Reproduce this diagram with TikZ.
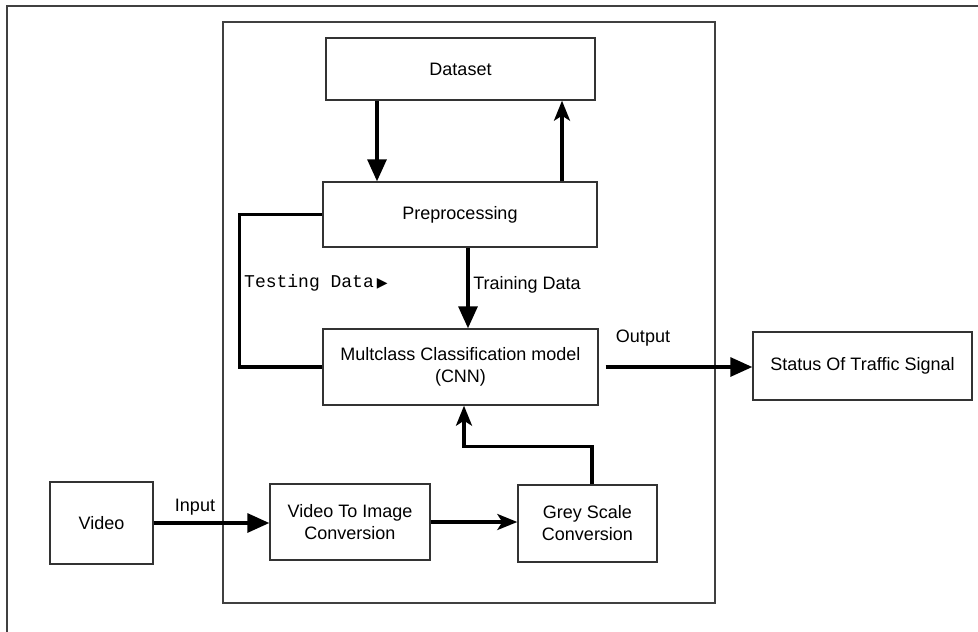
\documentclass[tikz,border=0pt]{standalone}
\usepackage{fontspec}
\setmainfont{Liberation Sans}
\newfontfamily\monofont{Liberation Mono}
\newfontfamily\symfont{DejaVu Sans}
\usetikzlibrary{arrows.meta}
\begin{document}
\begin{tikzpicture}[x=1pt,y=-1pt,
  box/.style={draw=black!80,line width=1.4pt,rectangle,inner sep=0pt,align=center,
              font=\fontsize{18}{22}\selectfont},
  flow/.style={line width=3.2pt,black},
  bigtip/.style={-{Triangle[length=22pt,width=19pt]}},
  slimtip/.style={-{Stealth[length=20pt,width=16pt,inset=5pt]}},
  lbl/.style={inner sep=0pt,font=\fontsize{18}{22}\selectfont}]
\useasboundingbox (0,0) rectangle (978,632);
\fill[white] (0,0) rectangle (978,632);

% outer frame (only its left and top edges lie inside the page)
\draw[black!75,line width=1.5pt] (7,650) -- (7,6) -- (1000,6);
% system boundary
\draw[black!75,line width=1.5pt] (223,22) rectangle (715,603);

% blocks
\node[box,minimum width=269pt,minimum height=62pt] (dataset) at (460.5,69) {Dataset};
\node[box,minimum width=274pt,minimum height=65pt] (prep) at (460,214.5) {Preprocessing};
\node[box,minimum width=275pt,minimum height=76pt] (cnn) at (460.5,367)
  {Multclass Classification model\\(CNN)};
\node[box,minimum width=219pt,minimum height=68pt] (status) at (862.5,366) {Status Of Traffic Signal};
\node[box,minimum width=103pt,minimum height=82pt] (video) at (101.5,523) {Video};
\node[box,minimum width=160pt,minimum height=76pt] (vti) at (350,522) {Video To Image\\Conversion};
\node[box,minimum width=139pt,minimum height=77pt] (grey) at (587.5,523.5) {Grey Scale\\Conversion};

% connectors
\draw[flow,bigtip] ([xshift=-83.5pt]dataset.south) -- ([xshift=-83.5pt]dataset.south |- prep.north);
\draw[flow,slimtip] ([xshift=102pt]prep.north) -- ([xshift=102pt]prep.north |- dataset.south);
\draw[flow,bigtip] ([xshift=8pt]prep.south) -- ([xshift=8pt]prep.south |- cnn.north);
\draw[flow] (prep.west) -- ++(-83,0) coordinate (loopcorner) |- (cnn.west);
\draw[flow,bigtip,shorten <=7pt] (cnn.east) -- (cnn.east -| status.west);
\draw[flow,bigtip] (video.east) -- (video.east -| vti.west);
\draw[flow,slimtip] (vti.east) -- (vti.east -| grey.west);
\draw[flow,slimtip] ([xshift=4.5pt]grey.north) -- ++(0,-38) -| ([xshift=3.5pt]cnn.south);

% connector labels
\node[lbl] (inlbl) at (195,507) {Input};
\node[lbl] (outlbl) at (643,338) {Output};
\node[lbl] (trainlbl) at (527,285) {Training Data};
\node[inner sep=0pt,anchor=west] (testlbl) at (244,283)
  {\monofont\fontsize{18}{20}\selectfont Testing Data\,{\symfont\fontsize{14}{14}\selectfont ▶}};
\end{tikzpicture}
\end{document}
